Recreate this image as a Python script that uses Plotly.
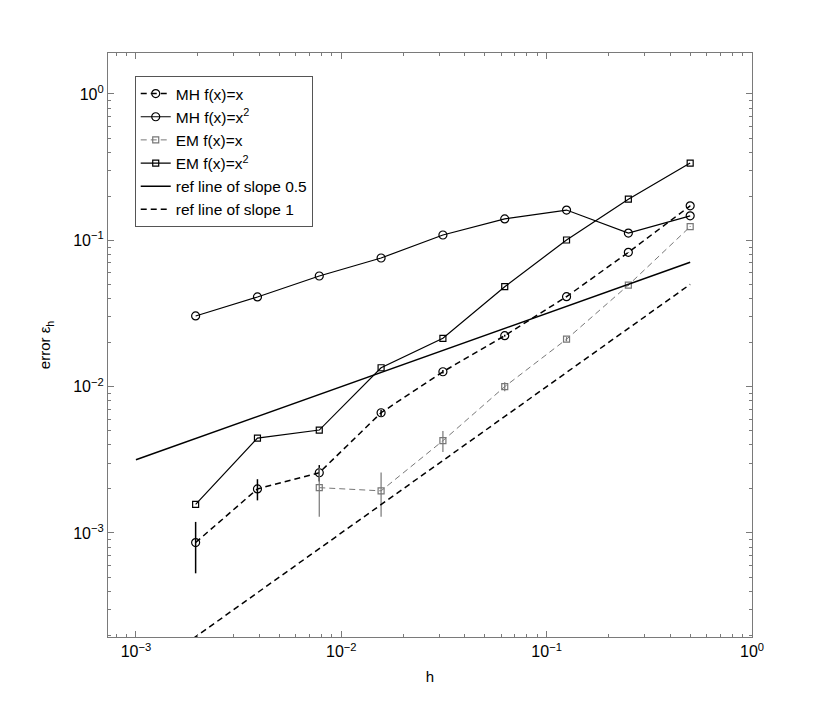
import plotly.graph_objects as go

# step sizes h = 2^-k
h = [1/512, 1/256, 1/128, 1/64, 1/32, 1/16, 1/8, 1/4, 1/2]

# Metropolis-Hastings errors
mh_x = [8.6e-4, 2.0e-3, 2.58e-3, 6.63e-3, 1.264e-2, 2.23e-2, 4.12e-2, 8.28e-2, 0.172]
mh_x_err = [3.3e-4, 3.3e-4, 3.3e-4, 3.3e-4, 3.3e-4, 3.3e-4, 3.3e-4, 3.3e-4, 3.3e-4]
mh_x2 = [3.04e-2, 4.1e-2, 5.7e-2, 7.57e-2, 0.1087, 0.140, 0.161, 0.112, 0.147]

# Euler-Maruyama errors (f(x)=x only from h=1/128)
h_em = [1/128, 1/64, 1/32, 1/16, 1/8, 1/4, 1/2]
em_x = [2.04e-3, 1.94e-3, 4.27e-3, 1.0e-2, 2.11e-2, 4.94e-2, 0.124]
em_x_err = [7.5e-4, 6.5e-4, 7.0e-4, 7.0e-4, 7.0e-4, 7.0e-4, 7.0e-4]
em_x2 = [1.57e-3, 4.45e-3, 5.05e-3, 1.346e-2, 2.14e-2, 4.82e-2, 0.1005, 0.191, 0.337]

# reference lines
ref_h = [1e-3, 0.5]
ref_half = [0.1 * v ** 0.5 for v in ref_h]
ref_one = [0.1 * v for v in ref_h]

tick_vals = [1e-3, 1e-2, 1e-1, 1]
tick_text = ["10<sup>\u22123</sup>", "10<sup>\u22122</sup>", "10<sup>\u22121</sup>", "10<sup>0</sup>"]
minor_vals = [m * 10.0 ** e for e in range(-4, 1) for m in range(2, 10)]

GRAY = "#777777"
AXC = "#7a7a7a"
DASH = "6px,4px"

fig = go.Figure()
fig.add_trace(go.Scatter(
    x=h, y=mh_x, name="MH f(x)=x", mode="lines+markers",
    line=dict(color="black", width=1.5, dash=DASH),
    marker=dict(symbol="circle-open", size=8, color="black", line=dict(width=1.2)),
    error_y=dict(type="data", array=mh_x_err, color="black", thickness=1.5, width=0)))
fig.add_trace(go.Scatter(
    x=h, y=mh_x2, name="MH f(x)=x<sup>2</sup>", mode="lines+markers",
    line=dict(color="black", width=1.2),
    marker=dict(symbol="circle-open", size=8, color="black", line=dict(width=1.2))))
fig.add_trace(go.Scatter(
    x=h_em, y=em_x, name="EM f(x)=x", mode="lines+markers",
    line=dict(color=GRAY, width=1, dash=DASH),
    marker=dict(symbol="square-open", size=6, color=GRAY, line=dict(width=1.2)),
    error_y=dict(type="data", array=em_x_err, color=GRAY, thickness=1.2, width=0)))
fig.add_trace(go.Scatter(
    x=h, y=em_x2, name="EM f(x)=x<sup>2</sup>", mode="lines+markers",
    line=dict(color="black", width=1.2),
    marker=dict(symbol="square-open", size=6, color="black", line=dict(width=1.2))))
fig.add_trace(go.Scatter(
    x=ref_h, y=ref_half, name="ref line of slope 0.5", mode="lines",
    line=dict(color="black", width=1.5)))
fig.add_trace(go.Scatter(
    x=ref_h, y=ref_one, name="ref line of slope 1", mode="lines",
    line=dict(color="black", width=1.5, dash=DASH)))

axis_style = dict(
    type="log", showgrid=False, zeroline=False,
    showline=True, linecolor=AXC, linewidth=1.2, mirror="ticks",
    ticks="inside", ticklen=6, tickcolor=AXC,
    tickmode="array", tickvals=tick_vals, ticktext=tick_text,
    minor=dict(ticks="inside", ticklen=3, tickcolor=AXC,
               tickmode="array", tickvals=minor_vals, showgrid=False),
    tickfont=dict(size=16, color="black"),
)

# page body has an 8px margin, so the figure is sized to fit inside it
fig.update_layout(
    width=814, height=703,
    margin=dict(l=100, r=70, t=45, b=74),
    plot_bgcolor="white", paper_bgcolor="white",
    font=dict(family="Liberation Sans, Arial, Helvetica, sans-serif", size=15, color="black"),
    xaxis=dict(axis_style, range=[-3.136, 0],
               title=dict(text="h", font=dict(size=15), standoff=12)),
    yaxis=dict(axis_style, range=[-3.711, 0.280],
               title=dict(text="error \u03b5<sub>h</sub>", font=dict(size=15), standoff=18)),
    legend=dict(x=0.0415, y=0.9606, xanchor="left", yanchor="top",
                bgcolor="white", bordercolor="#555555", borderwidth=1,
                font=dict(size=15.5), tracegroupgap=0),
    showlegend=True,
)

fig.write_html("out.html")
